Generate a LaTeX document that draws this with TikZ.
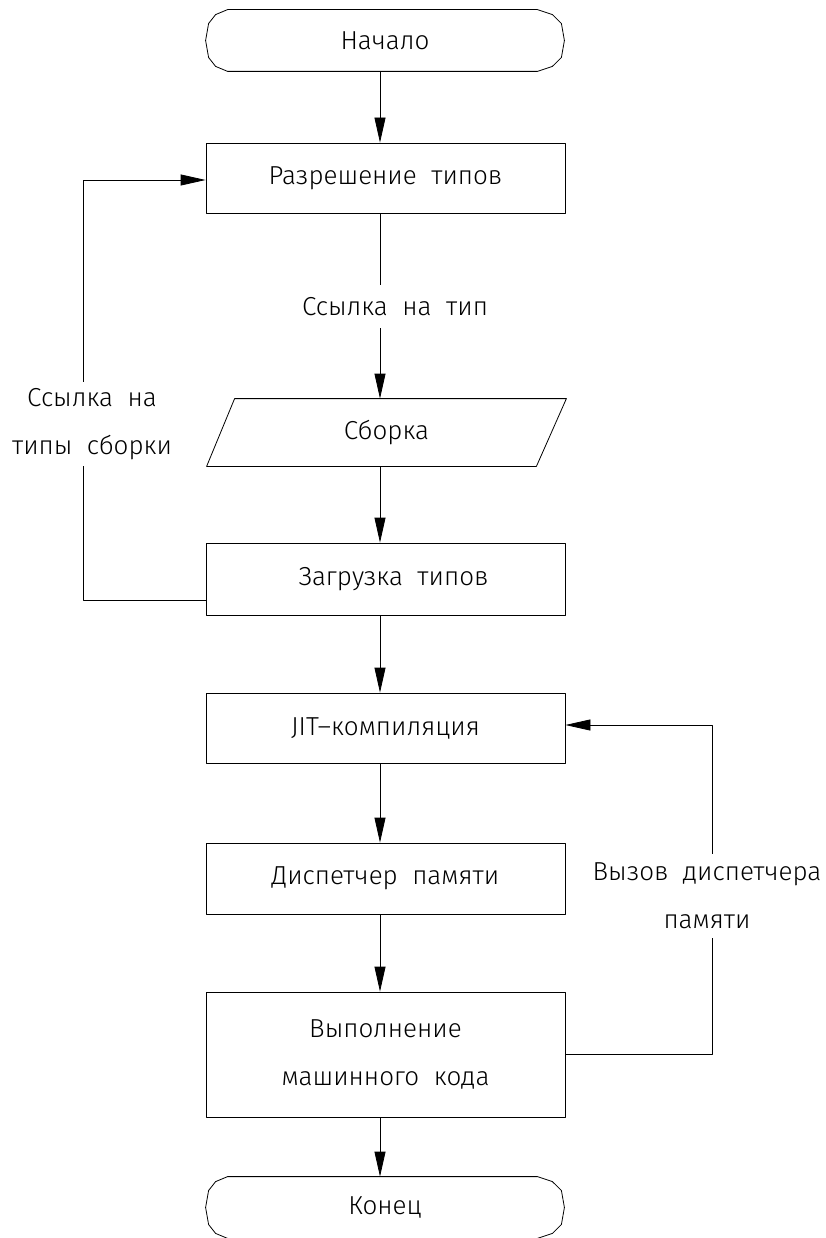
\documentclass[tikz,border=0pt]{standalone}
\usepackage{fontspec}
\setmainfont{Fira Sans}[UprightFont=* Light]
\usetikzlibrary{arrows.meta,calc}
\newcommand\drawterm[1]{%
  \draw ($(#1.north west)+(22,0)$) -- ($(#1.north east)+(-27,0)$)
    -- ($(#1.north east)+(-12,5)$) -- ($(#1.east)+(-3,-17)$) -- (#1.east)
    -- ($(#1.east)+(-3,17)$) -- ($(#1.south east)+(-12,-5)$) -- ($(#1.south east)+(-27,0)$)
    -- ($(#1.south west)+(22,0)$)
    -- ($(#1.south west)+(10,-5)$) -- ($(#1.west)+(3,17)$) -- (#1.west)
    -- ($(#1.west)+(3,-17)$) -- ($(#1.north west)+(10,5)$) -- cycle;}
\begin{document}
\begin{tikzpicture}[x=1pt,y=-1pt,line width=0.8pt,line join=round,
  txt/.style={font=\fontsize{26}{48}\selectfont},
  box/.style={txt,draw,minimum width=359pt,minimum height=70pt,inner sep=0pt,align=center},
  term/.style={txt,minimum width=358pt,minimum height=61pt,inner sep=0pt},
  pbox/.style={txt,minimum width=359pt,minimum height=67pt,inner sep=0pt},
  lbl/.style={txt,inner sep=0pt,align=center},
  arr/.style={-{Triangle[length=25pt,width=11pt]}}]
\useasboundingbox (0,0) rectangle (825,1238);
\coordinate (sp) at (380,0);
\coordinate (lx) at (83,0);
\coordinate (rx) at (712,0);

\node[term] (start) at (385,40.5) {Начало};
\drawterm{start}
\node[box] (b1) at (385.5,178) {Разрешение\ \ типов};
\node[lbl,minimum height=43pt] (l1) at (395,306.5) {Ссылка\ \ на\ \ тип};
\node[pbox] (asm) at (386.5,432.5) {Сборка};
\draw ($(asm.north west)+(28,0)$) -- (asm.north east) -- ($(asm.south east)+(-30,0)$) -- (asm.south west) -- cycle;
\node[box,minimum height=72pt] (b3) at (385.5,579) {\hspace*{16pt}Загрузка\ \ типов};
\node[box] (b5) at (385.5,728) {JIT–компиляция};
\node[box,minimum height=71pt] (b6) at (385.5,878.5) {Диспетчер\ \ памяти};
\node[box,minimum height=125pt] (b7) at (385.5,1054.5) {Выполнение\\машинного\ \ кода};
\node[term] (end) at (385,1207.5) {Конец};
\drawterm{end}

\node[lbl,minimum height=84pt] (l2) at (92,424) {Ссылка\ \ на\\типы\ \ сборки};
\node[lbl,minimum height=84pt] (l3) at (707,896) {Вызов\ \ диспетчера\\памяти};

\draw[arr] (start.south -| sp) -- (b1.north -| sp);
\draw (b1.south -| sp) -- (l1.north -| sp);
\draw[arr] (l1.south -| sp) -- (asm.north -| sp);
\draw[arr] (asm.south -| sp) -- (b3.north -| sp);
\draw[arr] (b3.south -| sp) -- (b5.north -| sp);
\draw[arr] (b5.south -| sp) -- (b6.north -| sp);
\draw[arr] (b6.south -| sp) -- (b7.north -| sp);
\draw[arr] (b7.south -| sp) -- (end.north -| sp);

\draw ([yshift=-21pt]b3.west) -| (l2.south -| lx);
\draw[arr] (l2.north -| lx) |- ([yshift=-2pt]b1.west);
\draw (b7.east) -| (l3.south -| rx);
\draw[arr] (l3.north -| rx) |- ([yshift=3pt]b5.east);
\end{tikzpicture}
\end{document}
